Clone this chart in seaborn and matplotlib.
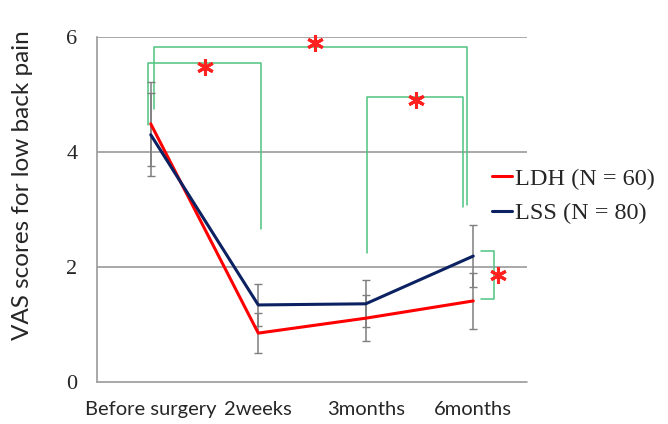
import numpy as np
import pandas as pd
import matplotlib
matplotlib.use("Agg")
import matplotlib.pyplot as plt
import seaborn as sns

# data
timepoints = ["Before surgery", "2weeks", "3months", "6months"]
ldh_mean = [4.49, 0.85, 1.11, 1.41]
ldh_sd = [0.73, 0.35, 0.40, 0.49]
lss_mean = [4.30, 1.34, 1.36, 2.19]
lss_sd = [0.72, 0.36, 0.41, 0.54]
groups = ["LDH (N = 60)", "LSS (N = 80)"]
colors = ["#ff0000", "#0b2161"]

df = pd.DataFrame({
    "pos": list(range(4)) * 2,
    "vas": ldh_mean + lss_mean,
    "group": [groups[0]] * 4 + [groups[1]] * 4,
})

sns.set_style("white")
plt.rcParams["font.family"] = ["Lato", "DejaVu Sans"]

fig = plt.figure(figsize=(6.68, 4.24), dpi=100)
ax = fig.add_axes([97 / 668, 42 / 424, 430 / 668, 345 / 424])

# error bars first (grey, behind the lines)
for m, s in [(ldh_mean, ldh_sd), (lss_mean, lss_sd)]:
    ax.errorbar(range(4), m, yerr=s, fmt="none", ecolor="#7f7f7f",
                elinewidth=1.1, capsize=3, capthick=1.0, zorder=2)

sns.lineplot(data=df, x="pos", y="vas", hue="group", palette=colors,
             linewidth=2.2, ax=ax, zorder=3)

ax.set_xlim(-0.5, 3.5)
ax.set_ylim(0, 6)
ax.set_yticks([0, 2, 4, 6])
ax.set_yticklabels(["0", "2", "4", "6"], family="Liberation Serif", fontsize=16)
ax.set_xticks(range(4))
ax.set_xticklabels(timepoints, fontsize=14.5)
ax.tick_params(axis="x", length=0, pad=14)
ax.tick_params(axis="y", length=0, pad=14)
ax.set_xlabel("")
ax.set_ylabel("VAS scores for low back pain", fontsize=17.5)
ax.yaxis.set_label_coords(-0.148, 0.57)

for y in [2, 4, 6]:
    ax.axhline(y, color="#9a9a9a", lw=1.2, zorder=1)
ax.axhline(0, color="#9a9a9a", lw=1.2, zorder=1, clip_on=False)
for side in ["top", "right", "bottom"]:
    ax.spines[side].set_visible(False)
ax.spines["left"].set_color("#9a9a9a")
ax.spines["left"].set_linewidth(1.2)

# significance brackets
green = "#4fc47f"
brackets = [
    [(-0.03, 4.47), (-0.03, 5.55), (1.03, 5.55), (1.03, 2.66)],
    [(0.03, 4.75), (0.03, 5.83), (2.94, 5.83), (2.94, 3.08)],
    [(2.01, 2.24), (2.01, 4.96), (2.90, 4.96), (2.90, 3.04)],
    [(3.07, 2.28), (3.19, 2.28), (3.19, 1.44), (3.07, 1.44)],
]
for b in brackets:
    xs, ys = zip(*b)
    ax.plot(xs, ys, color=green, lw=1.1, clip_on=False, zorder=1.5)

stars_x = [0.50, 1.53, 2.47, 3.23]
stars_y = [5.47, 5.90, 4.90, 1.86]
ax.plot(stars_x, stars_y, linestyle="none", marker=(6, 2, 0), markersize=12,
        markeredgewidth=2.2, color="#ff2020", clip_on=False, zorder=4)

leg = ax.legend(loc="center left", bbox_to_anchor=(0.918, 0.539), frameon=False,
                prop={"family": "Liberation Serif", "size": 17.5},
                handlelength=0.85, handletextpad=0.1, labelspacing=0.5,
                borderpad=0, borderaxespad=0)
for line in leg.get_lines():
    line.set_linewidth(2.2)

fig.savefig("out.png", dpi=100)
